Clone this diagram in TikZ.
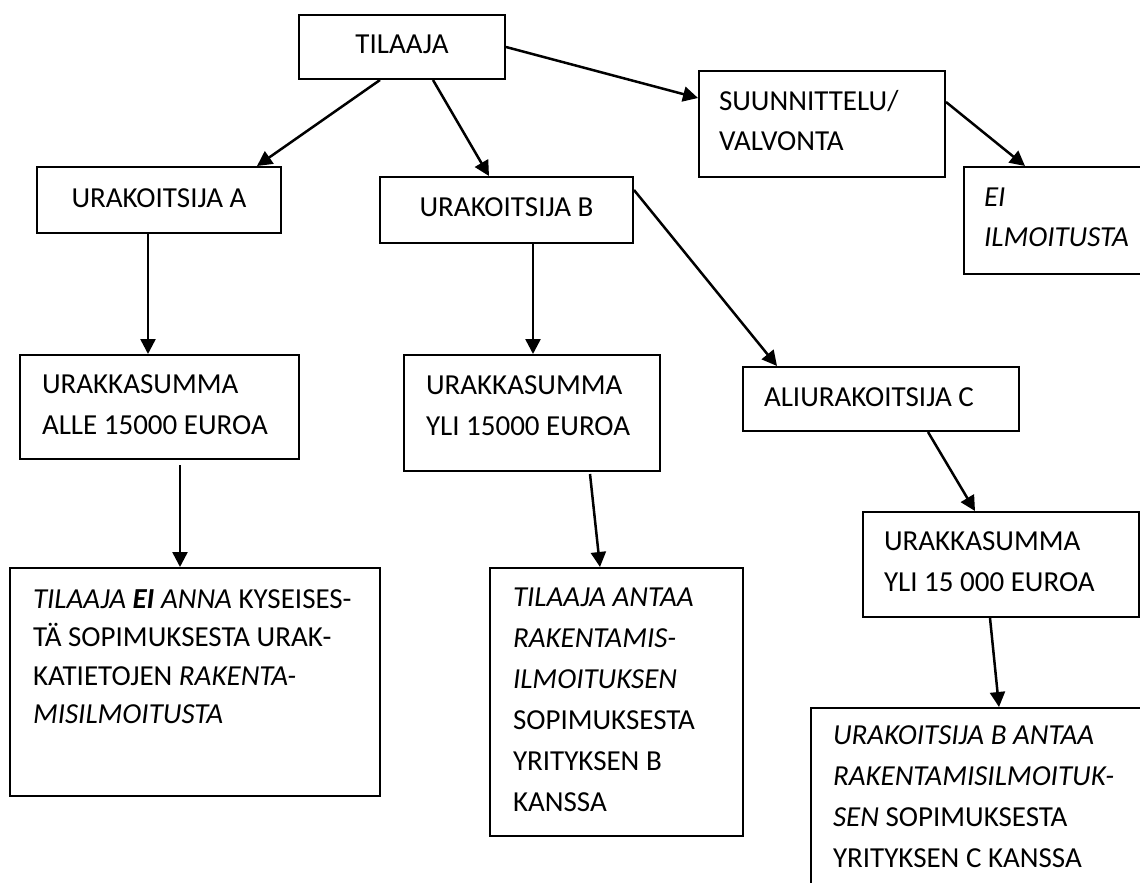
\documentclass[tikz,border=0pt]{standalone}
\usepackage{fontspec}
\setmainfont{Carlito}
\usepackage{tikz}
\usetikzlibrary{arrows.meta,shapes}
\tikzstyle{box}=[draw,line width=2pt,anchor=north west,inner ysep=0pt,font=\fontsize{29}{41}\selectfont]
\tikzstyle{centre box}=[box,inner xsep=10pt,align=flush center]
\tikzstyle{text box}=[box,align=flush left]
\tikzstyle{edge}=[draw,line width=2.5pt,-{Triangle[length=15pt,width=15pt]}]

\begin{document}
\begin{tikzpicture}[x=1pt,y=-1pt]
    \useasboundingbox (0,0) rectangle (1140,883);
    % Draw the chain of contracts
    % First we draw the boxes
    \node[centre box,text width=186pt,text height=39pt,text depth=25pt] (tilaaja) at (298,14) {TILAAJA};
    \node[centre box,text width=224pt,text height=40pt,text depth=26pt] (urakA) at (36,166) {URAKOITSIJA A};
    \node[centre box,text width=233pt,text height=39pt,text depth=27pt] (urakB) at (379,176) {URAKOITSIJA B};
    \node[text box,inner xsep=20pt,text width=206pt,text height=39pt,text depth=67pt,font=\fontsize{29}{40}\selectfont] (suunn) at (698,70) {SUUNNITTELU/\\VALVONTA};
    \node[text box,inner xsep=20pt,text width=177pt,text height=39pt,text depth=68pt,font=\fontsize{29}{40}\selectfont] (eiilm) at (963,166) {\textit{EI}\\\textit{ILMOITUSTA}};

    \node[text box,inner xsep=22pt,text width=235pt,text height=38pt,text depth=66pt] (sumA) at (19,354) {URAKKASUMMA\\ALLE 15000 EUROA};
    \node[text box,inner xsep=22pt,text width=212pt,text height=39pt,text depth=77pt] (sumB) at (403,354) {URAKKASUMMA\\YLI 15000 EUROA};
    \node[text box,inner xsep=21pt,text width=234pt,text height=39pt,text depth=25pt] (aliC) at (742,366) {ALIURAKOITSIJA C};
    \node[text box,inner xsep=21pt,text width=234pt,text height=38pt,text depth=67pt] (sumC) at (862,511) {URAKKASUMMA\\YLI 15 000 EUROA};

    \node[text box,inner xsep=23pt,text width=324pt,text height=40pt,text depth=188pt,font=\fontsize{29}{38.5}\selectfont] (noteA) at (9,567)
        {\textit{TILAAJA \textbf{EI} ANNA} KYSEISES-\\TÄ SOPIMUKSESTA URAK-\\KATIETOJEN \textit{RAKENTA-}\\\textit{MISILMOITUSTA}};
    \node[text box,inner xsep=23pt,text width=207pt,text height=38pt,text depth=230pt] (noteB) at (489,567)
        {\textit{TILAAJA ANTAA}\\\textit{RAKENTAMIS-}\\\textit{ILMOITUKSEN}\\SOPIMUKSESTA\\YRITYKSEN B\\KANSSA};
    \node[text box,inner xsep=22pt,text width=326pt,text height=36pt,text depth=177pt] (noteC) at (810,707)
        {\textit{URAKOITSIJA B ANTAA}\\\textit{RAKENTAMISILMOITUK-}\\\textit{SEN} SOPIMUKSESTA\\YRITYKSEN C KANSSA};

    % Connect boxes with arrows
    \path[edge] ([xshift=82pt]tilaaja.south west) -- ([xshift=221pt]urakA.north west);
    \path[edge] ([xshift=135pt]tilaaja.south west) -- ([xshift=110pt]urakB.north west);
    \path[edge] ([yshift=-33pt]tilaaja.north east) -- ([yshift=-28pt]suunn.north west);
    \path[edge] ([yshift=-32pt]suunn.north east) -- ([xshift=62pt]eiilm.north west);
    \path[edge] ([xshift=112pt]urakA.south west) -- ([xshift=129pt]sumA.north west);
    \path[edge] ([xshift=154pt]urakB.south west) -- ([xshift=130pt]sumB.north west);
    \path[edge] ([yshift=-14pt]urakB.north east) -- ([xshift=35pt]aliC.north west);
    \path[edge] ([xshift=161pt,yshift=-5pt]sumA.south west) -- ([xshift=171pt]noteA.north west);
    \path[edge] ([xshift=187pt,yshift=-2pt]sumB.south west) -- ([xshift=111pt]noteB.north west);
    \path[edge] ([xshift=186pt]aliC.south west) -- ([xshift=113pt]sumC.north west);
    \path[edge] ([xshift=128pt]sumC.south west) -- ([xshift=189pt]noteC.north west);
\end{tikzpicture}
\end{document}
